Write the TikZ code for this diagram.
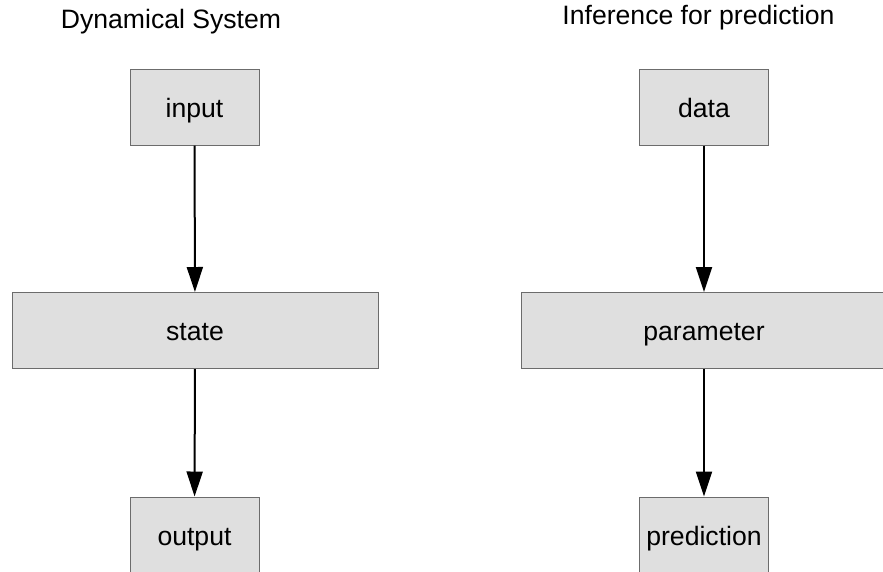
\documentclass[tikz,border=0pt]{standalone}
\usepackage{fontspec}
\setmainfont{Liberation Sans}
\usetikzlibrary{arrows.meta}

\tikzset{
  block/.style={draw=gray!85!black, fill=gray!25, line width=1pt, minimum height=76pt, inner sep=0pt,
    text height=22pt, text depth=2pt},
  flow/.style={line width=2pt, -{Triangle[length=25pt,width=16pt]}},
  heading/.style={anchor=base}
}

\begin{document}
\begin{tikzpicture}[x=1pt, y=-1pt, font=\fontsize{26.6}{30}\selectfont]
    \useasboundingbox (0,0) rectangle (883,571);
    \clip (0,0) rectangle (883,571);
    % left column
    \node[heading] (dyn) at (171,28.5) {Dynamical System};
    \node[block, minimum width=129pt] (input) at (194.5,107) {input};
    \node[block, minimum width=366pt] (state) at (195,330.5) {state};
    \node[block, minimum width=129pt] (output) at (194.5,535) {output};
    \draw[flow] (input) -- (state);
    \draw[flow] (state) -- (output);
    % right column
    \node[heading] (inf) at (698.5,24.5) {Inference for prediction};
    \node[block, minimum width=129pt] (data) at (704,107) {data};
    \node[block, minimum width=366pt] (param) at (704,330.5) {parameter};
    \node[block, minimum width=129pt] (pred) at (704,535) {prediction};
    \draw[flow] (data) -- (param);
    \draw[flow] (param) -- (pred);
\end{tikzpicture}
\end{document}
